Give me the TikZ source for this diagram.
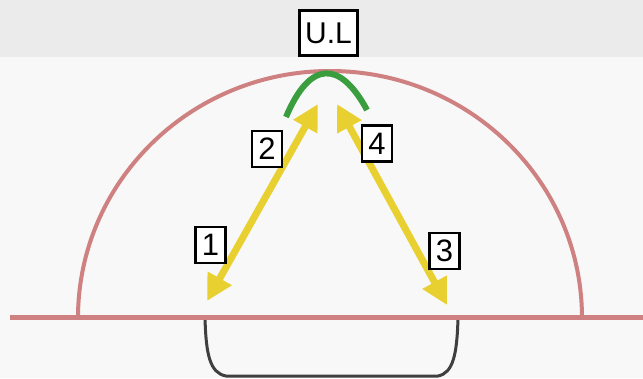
\documentclass[tikz,border=0pt]{standalone}
\usepackage{fontspec}
\setmainfont{Liberation Sans}
\usetikzlibrary{arrows.meta}
\definecolor{bandgray}{HTML}{EBEBEB}
\definecolor{paper}{HTML}{F8F8F8}
\definecolor{domered}{HTML}{CF8080}
\definecolor{arrowyellow}{HTML}{E8D030}
\definecolor{arcgreen}{HTML}{3A9E3E}
\definecolor{cupgray}{HTML}{3F3F3F}
\tikzset{
  numbox/.style={draw=black, line width=2.8pt, fill=white, inner sep=0pt,
    minimum width=30pt, minimum height=36pt, font=\fontsize{31}{32}\selectfont},
  ulbox/.style={draw=black, line width=2.8pt, fill=white, inner sep=0pt,
    minimum width=58pt, minimum height=45pt, font=\fontsize{30}{31}\selectfont},
  yarrow/.style={draw=arrowyellow, line width=7pt,
    {Triangle[length=26pt,width=26pt]}-{Triangle[length=26pt,width=26pt]}},
  domeline/.style={draw=domered, line width=4pt},
  greenarc/.style={draw=arcgreen, line width=6pt},
  cupline/.style={draw=cupgray, line width=3pt}
}
\begin{document}
\begin{tikzpicture}[x=1pt,y=-1pt]
\useasboundingbox (0,0) rectangle (643,378);
\fill[paper] (0,0) rectangle (643,378);
\fill[bandgray] (0,0) rectangle (643,57);
% cup below ground
\draw[cupline] (205,318) .. controls (206,355) and (210,373) .. (226,376) -- (438,376) .. controls (453,373) and (457,355) .. (458,318);
% dome
\draw[domeline] (78,318) arc[start angle=180, end angle=0, x radius=252, y radius=-247];
% ground line
\draw[domered, line width=5pt] (10,317) -- (643,317);
% green arc
\draw[greenarc] (286,117) .. controls (310,60) and (340,60) .. (367,110);
% arrow endpoints
\coordinate (lt) at (318,104);
\coordinate (lb) at (207,301);
\coordinate (rt) at (337,104);
\coordinate (rb) at (447,305);
\draw[yarrow] (lb) -- (lt);
\draw[yarrow] (rb) -- (rt);
% labels
\node[ulbox] (ul) at (328.5,33) {U.L};
\node[numbox] (n1) at (210.5,245) {1};
\node[numbox] (n2) at (267,149) {2};
\node[numbox] (n3) at (444.5,251) {3};
\node[numbox] (n4) at (377,143.5) {4};
\end{tikzpicture}
\end{document}
